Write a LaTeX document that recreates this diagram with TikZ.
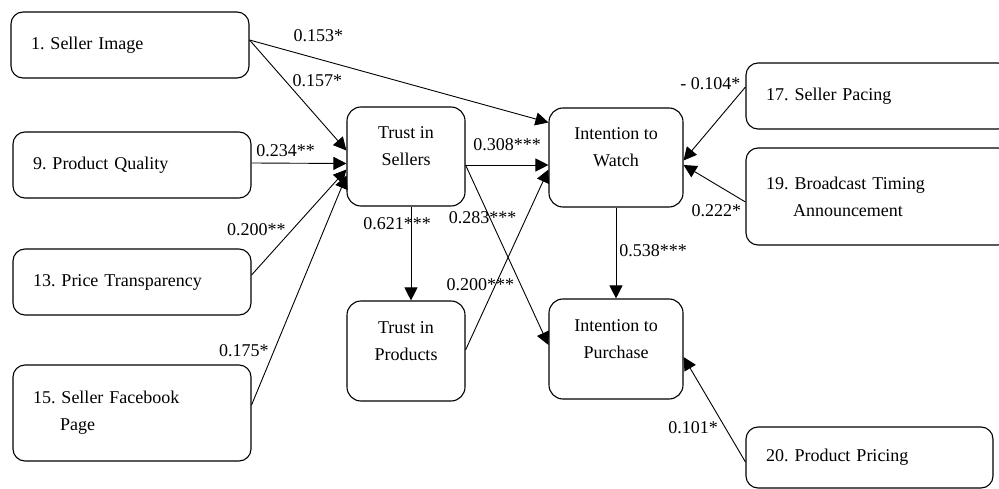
\documentclass[tikz,border=0pt]{standalone}
\usepackage{fontspec}
\setmainfont{Liberation Serif}
\frenchspacing
\usetikzlibrary{arrows.meta}
\tikzset{factor/.style = {draw, rounded corners=12pt, line width=1.1pt, minimum width=238pt, minimum height=66pt, text width=198pt, inner sep=0pt, align=left}}
\tikzset{construct/.style = {draw, rounded corners=14pt, line width=1.1pt, minimum width=118pt, minimum height=99pt, inner sep=0pt}}
\tikzset{caption/.style = {inner sep=0pt, align=center}}
\tikzset{link/.style = {inner sep=0pt}}
\tikzset{effect/.style = {-{Triangle[length=13pt, width=13pt]}, line width=0.9pt}}

\begin{document}
\begin{tikzpicture}[x=1pt, y=-1pt, font=\fontsize{18}{27}\selectfont]
			\clip (0,0) rectangle (999,489);
			% Factors on the left
			\node [factor] (image) at (130,45) {1. Seller Image};
			\node [factor] (quality) at (132,165) {9. Product Quality};
			\node [factor] (transparency) at (132,282) {13. Price Transparency};
			\node [factor, minimum height=96pt] (facebook) at (132,413) {15. Seller Facebook\\\hspace*{27pt}Page};
			% Trust
			\node [construct] (sellers) at (406,156.5) {};
			\node [caption] (sellers-text) at ([yshift=10pt]sellers.center) {Trust in\\Sellers};
			\node [construct, minimum height=100pt] (products) at (406,351) {};
			\node [caption] (products-text) at ([yshift=10pt]products.center) {Trust in\\Products};
			% Intentions
			\node [construct, minimum width=134pt] (watch) at (616,157.5) {};
			\node [caption] (watch-text) at ([yshift=10pt]watch.center) {Intention to\\Watch};
			\node [construct, minimum width=134pt, minimum height=100pt] (purchase) at (616,349) {};
			\node [caption] (purchase-text) at ([yshift=10pt]purchase.center) {Intention to\\Purchase};
			% Factors on the right
			\node [factor, minimum width=264pt, text width=224pt] (pacing) at (878,96) {17. Seller Pacing};
			\node [factor, minimum width=264pt, text width=224pt, minimum height=97pt] (timing) at (878,196.5) {19. Broadcast Timing\\\hspace*{27pt}Announcement};
			\node [factor, minimum width=247pt, text width=207pt, minimum height=61pt] (pricing) at (869.5,457.5) {20. Product Pricing};

			% Paths into Trust in Sellers
			\draw[effect] ([yshift=5pt]image.east) -- node[link, pos=0.23, yshift=23pt] {0.153*} ([yshift=35pt]watch.west);
			\draw[effect] ([yshift=5pt]image.east) -- node[link, pos=0.37, xshift=32pt] {0.157*} ([yshift=6pt]sellers.west);
			\draw[effect] ([yshift=2pt]quality.east) -- node[link, pos=0.36, yshift=13pt] {0.234**} ([yshift=-7pt]sellers.west);
			\draw[effect] ([yshift=7pt]transparency.east) -- node[link, pos=0.43, xshift=-36pt] {0.200**} ([yshift=-13pt]sellers.west);
			\draw[effect] ([yshift=8pt]facebook.east) -- node[link, pos=0.235, xshift=-30pt] {0.175*} ([yshift=-19pt]sellers.west);
			% Paths out of trust
			\draw[effect] ([yshift=-8.5pt]sellers.east) -- node[link, midway, yshift=20pt] {0.308***} ([yshift=-7.5pt]watch.west);
			\draw[effect] ([xshift=5pt]sellers.south) -- node[link, pos=0.18, xshift=-14pt] {0.621***} ([xshift=5pt]products.north);
			\draw[effect] ([yshift=-8.5pt]sellers.east) -- node[link, pos=0.29, xshift=-7pt] {0.283***} ([yshift=4pt]purchase.west);
			\draw[effect] ([yshift=1pt]products.east) -- node[link, pos=0.36, xshift=-15pt] {0.200***} ([yshift=-12pt]watch.west);
			\draw[effect] (watch) -- node[link, pos=0.47, xshift=37pt] {0.538***} (purchase);
			% Paths from the right
			\draw[effect] ([yshift=9pt]pacing.west) -- node[link, pos=0.1, xshift=-29pt, yshift=11pt] {- 0.104*} ([yshift=-3pt]watch.east);
			\draw[effect] ([yshift=-5.5pt]timing.west) -- node[link, pos=0.1, xshift=-23pt, yshift=-12pt] {0.222*} ([yshift=-7.5pt]watch.east);
			\draw[effect] ([yshift=-4.5pt]pricing.west) -- node[link, pos=0.33, xshift=-32pt] {0.101*} ([yshift=-8pt]purchase.east);
		\end{tikzpicture}
\end{document}
